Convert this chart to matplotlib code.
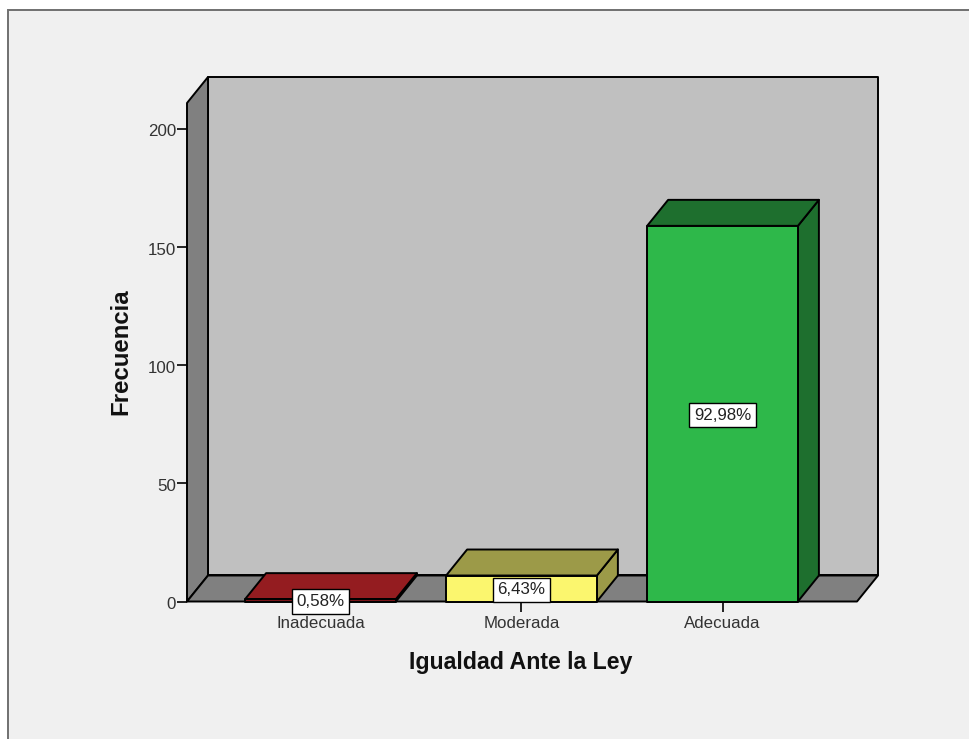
import matplotlib
matplotlib.use('Agg')
import matplotlib.pyplot as plt
from matplotlib.patches import Polygon, Rectangle
from matplotlib.transforms import ScaledTranslation

# Datos
categorias = ['Inadecuada', 'Moderada', 'Adecuada']
frecuencias = [1, 11, 159]
porcentajes = ['0,58%', '6,43%', '92,98%']
ticks_y = [0, 50, 100, 150, 200]

# Colores de cada barra: frente, arriba/lado
frentes = ['#7A1518', '#FBF66E', '#2EB84A']
sombras = ['#941C20', '#9C9A48', '#1E6F2E']

plt.rcParams['font.family'] = ['Liberation Sans', 'DejaVu Sans']

W, H = 970, 739
fig = plt.figure(figsize=(W / 100, H / 100), dpi=100, facecolor='white')

# Marco gris de la ventana (sale por la derecha y por abajo)
fig.add_artist(Rectangle((8 / W, -0.05), 1.05, 1.05 - 10 / H, transform=fig.transFigure,
                         facecolor='#F0F0F0', edgecolor='#707070', linewidth=1.4, zorder=-1))

# El eje es el plano frontal de la caja 3D
ax = fig.add_axes([187 / W, (H - 601.5) / H, 670 / W, 498.5 / H])
ax.set_facecolor('none')
ax.set_xlim(-0.664, 2.669)
ax.set_ylim(0, 211)
for lado in ax.spines.values():
    lado.set_visible(False)

x0, x1 = ax.get_xlim()
y0, y1 = ax.get_ylim()
# Profundidad de la caja: 21 px a la derecha, 26 px arriba
dx = 21 / 201
dy = 26 / 2.3625
borde = dict(edgecolor='black', linewidth=1.4, clip_on=False, joinstyle='round')


def poligono(puntos, color, z):
    ax.add_patch(Polygon(puntos, closed=True, facecolor=color, zorder=z, **borde))


# Paredes y suelo
poligono([(x0 + dx, y0 + dy), (x1 + dx, y0 + dy), (x1 + dx, y1 + dy), (x0 + dx, y1 + dy)], '#C0C0C0', 1)
poligono([(x0, y0), (x0 + dx, y0 + dy), (x0 + dx, y1 + dy), (x0, y1)], '#808080', 2)
poligono([(x0, y0), (x1, y0), (x1 + dx, y0 + dy), (x0 + dx, y0 + dy)], '#808080', 2)

# Barras con cara superior y lateral
ancho = 0.75
for i, valor in enumerate(frecuencias):
    izq = i - ancho / 2
    der = i + ancho / 2
    poligono([(der, 0), (der + dx, dy), (der + dx, valor + dy), (der, valor)], sombras[i], 3)
    poligono([(izq, valor), (der, valor), (der + dx, valor + dy), (izq + dx, valor + dy)], sombras[i], 3)
    ax.bar(i, valor, width=ancho, color=frentes[i], zorder=4, **borde)
    ax.annotate(porcentajes[i], (i, valor / 2), xytext=(0, -1), textcoords='offset points',
                ha='center', va='center', fontsize=12.2, color='#222222', zorder=6,
                bbox=dict(boxstyle='square,pad=0.28', facecolor='white', edgecolor='black', linewidth=1.0))

ax.set_xticks(range(len(categorias)))
ax.set_xticklabels(categorias, fontsize=12.2, color='#333333')
ax.set_yticks(ticks_y)
ax.tick_params(axis='y', length=7, width=1.2, pad=1, labelsize=12.2, labelcolor='#333333')
ax.tick_params(axis='x', length=7.5, width=1.2, pad=3)

# Los numeros del eje y van un poco mas abajo que la marca
bajar = ScaledTranslation(0, -1.5 / 100, fig.dpi_scale_trans)
for etiqueta in ax.get_yticklabels():
    etiqueta.set_transform(etiqueta.get_transform() + bajar)

fig.text(521 / W, 1 - 662 / H, 'Igualdad Ante la Ley', ha='center', va='center',
         fontsize=16.7, fontweight='bold', color='#111111')
fig.text(120.5 / W, 1 - 352 / H, 'Frecuencia', ha='center', va='center', rotation=90,
         fontsize=17.3, fontweight='bold', color='#111111')

fig.savefig('out.png', dpi=100, facecolor=fig.get_facecolor())
